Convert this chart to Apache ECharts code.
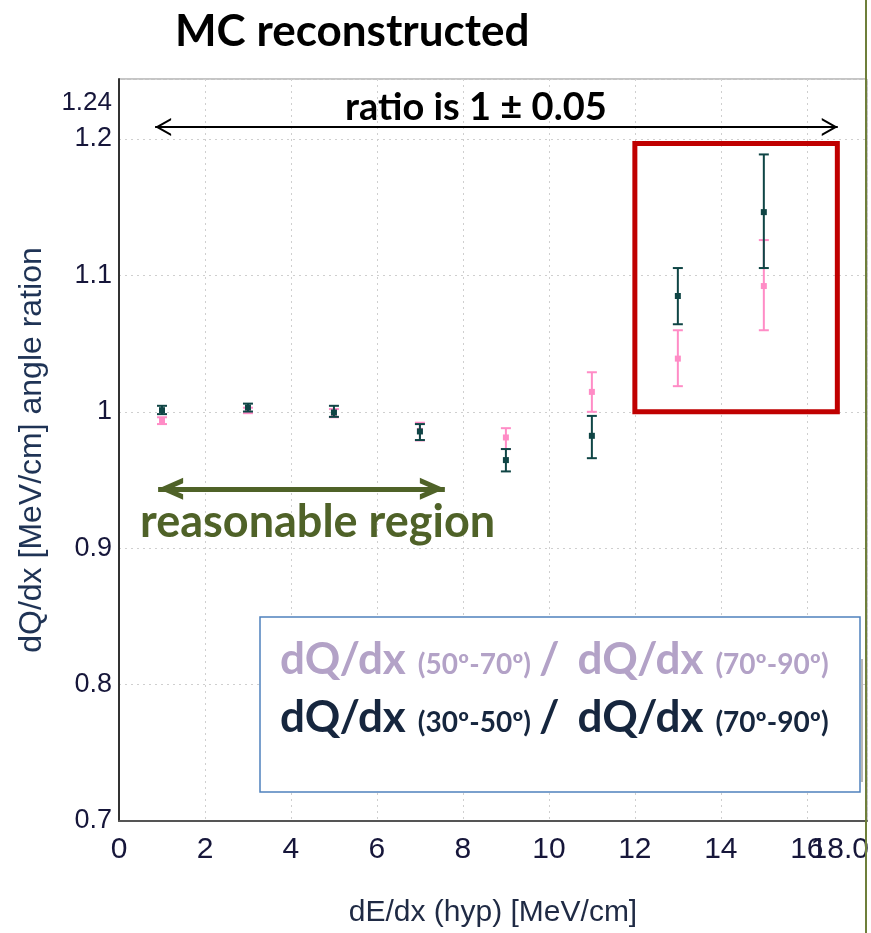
<!DOCTYPE html>
<html>
<head>
<meta charset="utf-8">
<script src="https://cdn.jsdelivr.net/npm/echarts@6.0.0/dist/echarts.min.js"></script>
<style>html,body{margin:0;padding:0;background:#fff;}#c{width:871px;height:933px;}</style>
</head>
<body>
<div id="c"></div>
<script>
// ---- data ----
const xVals  = [1, 3, 5, 7, 9, 11, 13, 15];
// dQ/dx (50-70) / dQ/dx (70-90)  (pink)
const pinkY  = [0.9934, 1.001, 0.999, 0.986, 0.9812, 1.0146, 1.039, 1.0922];
const pinkLo = [0.991, 0.999, 0.996, 0.979, 0.9727, 1.000, 1.0188, 1.0598];
const pinkHi = [0.996, 1.003, 1.002, 0.992, 0.988, 1.029, 1.0598, 1.1259];
// dQ/dx (30-50) / dQ/dx (70-90)  (dark)
const darkY  = [1.0012, 1.0032, 0.9995, 0.9856, 0.9646, 0.9824, 1.0849, 1.1464];
const darkLo = [0.9983, 1.0002, 0.9963, 0.9793, 0.9563, 0.966, 1.0642, 1.1054];
const darkHi = [1.0044, 1.006, 1.0044, 0.991, 0.9727, 0.997, 1.1054, 1.1887];

const xMin = 0, xMax = 17.4, xInterval = 2;
const yMin = 0.7, yMax = 1.244, yInterval = 0.1;
const xMaxLabel = '18.0', yMaxLabel = '1.24';

const ratioArrow = {x0: 0.84, x1: 16.72, y: 1.2088};
const greenArrow = {x0: 0.91, x1: 7.58, y: 0.9435};
const redBox = {x0: 12.0, x1: 16.71, y0: 1.0, y1: 1.1967};

function build(xs, ys, lo, hi) { return xs.map((x, i) => [x, ys[i], lo[i], hi[i]]); }

function errRenderer(color, capW, sq) {
  return function (params, api) {
    const x = api.value(0), y = api.value(1), l = api.value(2), h = api.value(3);
    const p = api.coord([x, y]), pl = api.coord([x, l]), ph = api.coord([x, h]);
    const st = {stroke: color, lineWidth: 2};
    return {type: 'group', children: [
      {type: 'line', shape: {x1: p[0], y1: pl[1], x2: p[0], y2: ph[1]}, style: st},
      {type: 'line', shape: {x1: p[0] - capW / 2, y1: pl[1], x2: p[0] + capW / 2, y2: pl[1]}, style: st},
      {type: 'line', shape: {x1: p[0] - capW / 2, y1: ph[1], x2: p[0] + capW / 2, y2: ph[1]}, style: st},
      {type: 'rect', shape: {x: p[0] - sq / 2, y: p[1] - sq / 2, width: sq, height: sq}, style: {fill: color}}
    ]};
  };
}

// open chevrons whose tip sits at the centre of the symbol box
const blackHead = 'path://M9,0 L9.01,0 M9,16 L0,32 L2.3,32 L9,20.1 L15.7,32 L18,32 Z';
const greenHead = 'path://M11,0 L11.01,0 M11,25 L0,50 L5.5,50 L11,37.4 L16.5,50 L22,50 Z';

const tickFont = '"Liberation Sans", Arial, sans-serif';
const labelColor = '#16163a';

function legendRich(color) {
  return {
    b: {fontFamily: 'Lato', fontWeight: 'bold', fontSize: 44, fill: color},
    s: {fontFamily: 'Lato', fontWeight: 'bold', fontSize: 28, fill: color, verticalAlign: 'bottom', padding: [0, 0, 3, 0]},
    g1: {width: 12, fontSize: 26},
    g2: {width: 8, fontSize: 26},
    g3: {width: 18, fontSize: 26}
  };
}

const chart = echarts.init(document.getElementById('c'), null, {renderer: 'canvas'});
chart.setOption({
  animation: false,
  backgroundColor: '#ffffff',
  grid: {left: 119, right: 4, top: 79, bottom: 112, show: true, borderColor: '#8a8a8a', borderWidth: 1, backgroundColor: 'transparent'},
  xAxis: {
    type: 'value', min: xMin, max: xMax, interval: xInterval,
    name: 'dE/dx (hyp) [MeV/cm]', nameLocation: 'middle', nameGap: 77,
    nameTextStyle: {fontFamily: tickFont, fontSize: 30, color: '#1f2a44'},
    axisLine: {show: true, onZero: false, lineStyle: {color: '#555', width: 2}},
    axisTick: {show: false},
    axisLabel: {fontFamily: tickFont, fontSize: 30, color: labelColor, margin: 14,
      showMaxLabel: true, showMinLabel: true, hideOverlap: false,
      formatter: v => v > 17 ? '' : String(Math.round(v))},
    splitLine: {show: true, lineStyle: {color: '#cfcfcf', type: [2, 4], width: 1}}
  },
  yAxis: {
    type: 'value', min: yMin, max: yMax, interval: yInterval,
    name: 'dQ/dx [MeV/cm] angle ration', nameLocation: 'middle', nameGap: 71, nameRotate: 90,
    nameTextStyle: {fontFamily: tickFont, fontSize: 32, color: '#1f3355'},
    axisLine: {show: true, onZero: false, lineStyle: {color: '#333', width: 2}},
    axisTick: {show: false},
    axisLabel: {fontFamily: tickFont, fontSize: 27, color: labelColor, margin: 7,
      showMaxLabel: true,
      formatter: v => v > 1.21 ? '{m|' + yMaxLabel + '}' : String(Math.round(v * 10) / 10),
      rich: {m: {fontFamily: tickFont, fontSize: 26, color: labelColor, padding: [48, 0, 0, 0]}}},
    splitLine: {show: true, lineStyle: {color: '#cfcfcf', type: [2, 4], width: 1}}
  },
  series: [
    {
      type: 'line', data: [], silent: true,
      markArea: {silent: true,
        itemStyle: {color: 'rgba(0,0,0,0)', borderColor: '#c00000', borderWidth: 5},
        data: [[{coord: [redBox.x0, redBox.y1]}, {coord: [redBox.x1, redBox.y0]}]]},
      markLine: {silent: true, animation: false, label: {show: false},
        data: [
          [{coord: [ratioArrow.x0, ratioArrow.y], symbol: blackHead, symbolSize: [18, 32], lineStyle: {color: '#000', width: 2, type: 'solid'}},
           {coord: [ratioArrow.x1, ratioArrow.y], symbol: blackHead, symbolSize: [18, 32]}],
          [{coord: [greenArrow.x0, greenArrow.y], symbol: greenHead, symbolSize: [22, 50], lineStyle: {color: '#4f6228', width: 5, type: 'solid'}},
           {coord: [greenArrow.x1, greenArrow.y], symbol: greenHead, symbolSize: [22, 50]}]
        ]}
    },
    {type: 'custom', name: 'pink', data: build(xVals, pinkY, pinkLo, pinkHi),
      renderItem: errRenderer('#ff8cc6', 10, 6), encode: {x: 0, y: [1, 2, 3]}, z: 3},
    {type: 'custom', name: 'dark', data: build(xVals, darkY, darkLo, darkHi),
      renderItem: errRenderer('#0f4545', 10, 6), encode: {x: 0, y: [1, 2, 3]}, z: 4}
  ],
  graphic: [
    {type: 'text', left: 175, top: 10, z: 10,
      style: {text: 'MC reconstructed', font: 'bold 44px Lato', fill: '#000'}},
    {type: 'text', left: 345, top: 89, z: 10,
      style: {text: 'ratio is 1 ± 0.05', font: 'bold 38px Lato', fill: '#000'}},
    {type: 'text', left: 140, top: 500, z: 10,
      style: {text: 'reasonable region', font: 'bold 45px Lato', fill: '#4f6228'}},
    {type: 'text', right: 2, top: 835, z: 10,
      style: {text: xMaxLabel, font: '30px "Liberation Sans"', fill: labelColor}},
    {type: 'rect', shape: {x: 861, y: 659, width: 2, height: 123}, style: {fill: '#b8b8b8'}, z: 9},
    {type: 'rect', shape: {x: 260, y: 617, width: 600, height: 175}, style: {fill: '#fff', stroke: '#4f81bd', lineWidth: 1.5}, z: 10},
    {type: 'text', left: 280, top: 638, z: 11,
      style: {
        text: '{b|dQ/dx}{g1|}{s|(50º-70º)}{g2|}{b|/}{g3|}{b|dQ/dx}{g1|}{s|(70º-90º)}',
        rich: legendRich('#b3a2c7')
      }},
    {type: 'text', left: 280, top: 696, z: 11,
      style: {
        text: '{b|dQ/dx}{g1|}{s|(30º-50º)}{g2|}{b|/}{g3|}{b|dQ/dx}{g1|}{s|(70º-90º)}',
        rich: legendRich('#16263e')
      }},
    {type: 'rect', shape: {x: 865, y: 0, width: 2, height: 933}, style: {fill: '#6e7f3a'}, z: 12}
  ]
});
</script>
</body>
</html>
